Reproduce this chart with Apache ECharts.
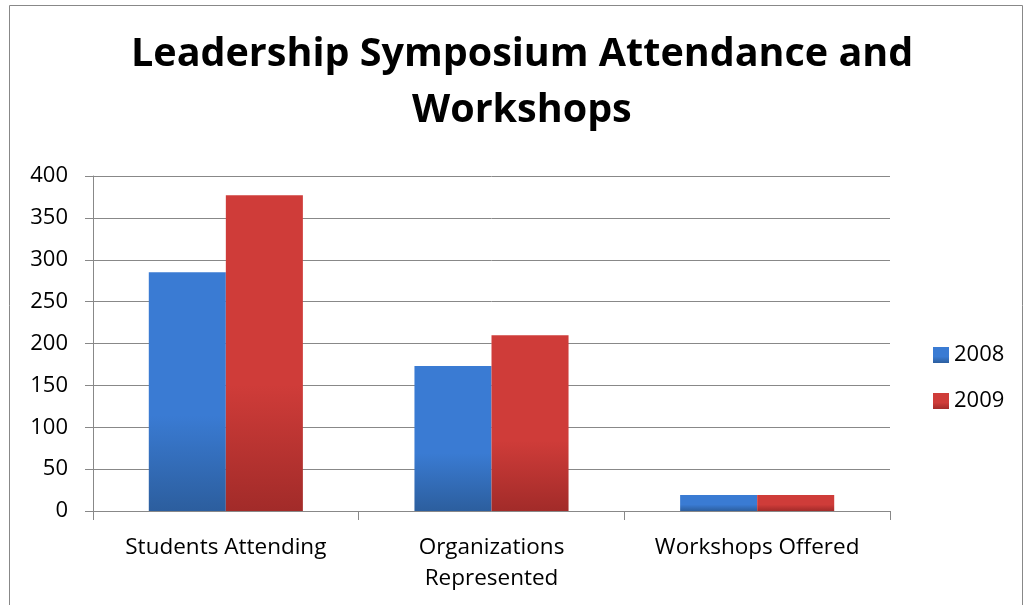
<!DOCTYPE html>
<html>
<head>
<meta charset="utf-8">
<script src="https://cdn.jsdelivr.net/npm/echarts@6/dist/echarts.min.js"></script>
<style>
html,body{margin:0;padding:0;background:#fff;}
#chart{width:1028px;height:605px;}
</style>
</head>
<body>
<div id="chart"></div>
<script>
var categories = ['Students Attending', 'Organizations\nRepresented', 'Workshops Offered'];
var values2008 = [285, 173, 19];
var values2009 = [377, 210, 19];
var yTicks = [0, 50, 100, 150, 200, 250, 300, 350, 400];
var titleLines = ['Leadership Symposium Attendance and', 'Workshops'];

function grad(top, bottom) {
	return new echarts.graphic.LinearGradient(0, 0, 0, 1, [
		{ offset: 0, color: top },
		{ offset: 0.6, color: top },
		{ offset: 1, color: bottom }
	]);
}

var chart = echarts.init(document.getElementById('chart'));
var font = '"Open Sans", "Noto Sans", sans-serif';
var titleStyle = { fontSize: 39.5, fontWeight: 'bold', color: '#000', fontFamily: font };

var option = {
	animation: false,
	textStyle: { fontFamily: font },
	title: [{
		text: titleLines[0],
		left: 126,
		top: 30,
		textStyle: titleStyle
	}, {
		text: titleLines[1],
		left: 407,
		top: 86,
		textStyle: titleStyle
	}],
	graphic: [{
		type: 'rect',
		shape: { x: 9.5, y: 5.5, width: 1013, height: 620 },
		style: { fill: 'none', stroke: '#888', lineWidth: 1 },
		silent: true
	}],
	legend: {
		orient: 'vertical',
		left: 933,
		top: 344,
		icon: 'rect',
		itemWidth: 16,
		itemHeight: 16,
		itemGap: 24,
		padding: 0,
		textStyle: { fontSize: 22, color: '#000', fontFamily: font },
		data: ['2008', '2009']
	},
	grid: { left: 93, right: 138, top: 176, bottom: 94 },
	xAxis: {
		type: 'category',
		data: categories,
		axisLine: { lineStyle: { color: '#888', width: 1 } },
		axisTick: { show: true, length: 9, lineStyle: { color: '#888' } },
		axisLabel: { interval: 0, fontSize: 22.5, color: '#000', margin: 21, lineHeight: 31, fontFamily: font }
	},
	yAxis: {
		type: 'value',
		min: yTicks[0],
		max: yTicks[yTicks.length - 1],
		interval: 50,
		axisLine: { show: true, lineStyle: { color: '#888', width: 1 } },
		axisTick: { show: true, inside: false, length: 8, lineStyle: { color: '#888' } },
		splitLine: { lineStyle: { color: '#888', width: 1 } },
		axisLabel: { fontSize: 22, color: '#000', margin: 25, fontFamily: font }
	},
	series: [{
		name: '2008',
		type: 'bar',
		data: values2008,
		barGap: '0%',
		barCategoryGap: '42%',
		itemStyle: { color: grad('#3a7bd3', '#2c5e9e') }
	}, {
		name: '2009',
		type: 'bar',
		data: values2009,
		itemStyle: { color: grad('#cf3c39', '#a22b29') }
	}]
};

chart.setOption(option);
window.onresize = chart.resize;
</script>
</body>
</html>
